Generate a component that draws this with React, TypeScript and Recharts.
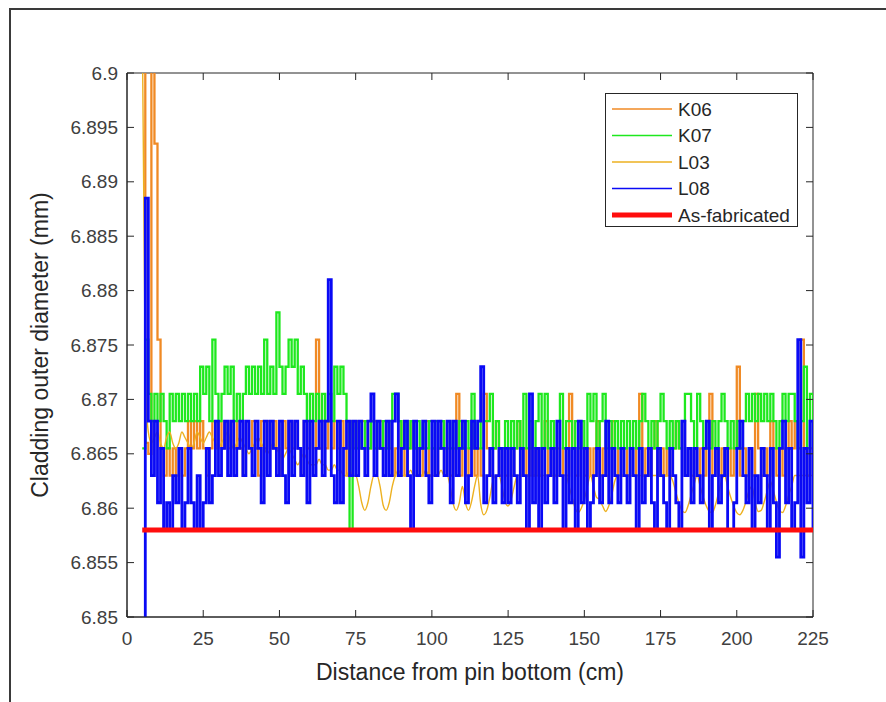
import { LineChart, Line, XAxis, YAxis, Legend, ReferenceArea } from 'recharts'

// sampling grid along the pin (cm)
const START_CM = 5
const STEP_CM = 1

// measured outer diameter (mm), one value per cm from 5 to 225
const K06 = [
  6.91, 6.866, 6.865, 6.91, 6.8935, 6.8755, 6.8655, 6.863, 6.8655, 6.863,
  6.8655, 6.863, 6.8655, 6.863, 6.8655, 6.868, 6.8655, 6.868, 6.8655, 6.868,
  6.8655, 6.863, 6.8655, 6.868, 6.8655, 6.868, 6.8655, 6.868, 6.8655, 6.868,
  6.8655, 6.868, 6.8655, 6.863, 6.868, 6.8655, 6.868, 6.8655, 6.863, 6.868,
  6.8655, 6.868, 6.8655, 6.868, 6.8655, 6.863, 6.868, 6.8655, 6.868, 6.8655,
  6.868, 6.8655, 6.863, 6.868, 6.8655, 6.868, 6.8655, 6.8755, 6.8655, 6.868,
  6.8655, 6.868, 6.8655, 6.868, 6.8655, 6.868, 6.8655, 6.863, 6.868, 6.8655,
  6.868, 6.8655, 6.868, 6.868, 6.8655, 6.868, 6.868, 6.8655, 6.868, 6.8655,
  6.868, 6.8655, 6.863, 6.8655, 6.868, 6.8655, 6.863, 6.8655, 6.868, 6.8655,
  6.8655, 6.863, 6.8655, 6.868, 6.863, 6.8655, 6.863, 6.8655, 6.868, 6.863,
  6.8655, 6.863, 6.8655, 6.8705, 6.863, 6.8655, 6.863, 6.8655, 6.868, 6.863,
  6.8655, 6.863, 6.8705, 6.8655, 6.863, 6.8655, 6.868, 6.863, 6.8655, 6.863,
  6.8655, 6.863, 6.8655, 6.868, 6.863, 6.8655, 6.863, 6.8655, 6.863, 6.8655,
  6.863, 6.8655, 6.868, 6.863, 6.8655, 6.863, 6.8655, 6.863, 6.8655, 6.863,
  6.8705, 6.8655, 6.863, 6.868, 6.8655, 6.863, 6.8655, 6.863, 6.8655, 6.868,
  6.863, 6.8655, 6.863, 6.8655, 6.868, 6.863, 6.8655, 6.863, 6.8655, 6.863,
  6.8655, 6.863, 6.8655, 6.8705, 6.863, 6.8655, 6.863, 6.8655, 6.868, 6.863,
  6.8655, 6.863, 6.8655, 6.863, 6.8655, 6.868, 6.8655, 6.868, 6.863, 6.8655,
  6.863, 6.8655, 6.863, 6.8655, 6.863, 6.8655, 6.8705, 6.863, 6.8655, 6.863,
  6.8655, 6.863, 6.8655, 6.863, 6.8655, 6.873, 6.863, 6.8655, 6.863, 6.8655,
  6.863, 6.8705, 6.8655, 6.863, 6.8655, 6.863, 6.868, 6.8655, 6.863, 6.8655,
  6.863, 6.8655, 6.868, 6.8655, 6.868, 6.8655, 6.8755, 6.8655, 6.863, 6.8655,
  6.863,
]

const K07 = [
  6.8655, 6.8755, 6.8705, 6.868, 6.8705, 6.868, 6.8705, 6.868, 6.8655, 6.8705,
  6.868, 6.8705, 6.868, 6.8705, 6.868, 6.8705, 6.868, 6.8705, 6.868, 6.873,
  6.8705, 6.873, 6.868, 6.8755, 6.8705, 6.868, 6.8705, 6.873, 6.8705, 6.873,
  6.868, 6.8705, 6.868, 6.8705, 6.873, 6.8705, 6.873, 6.8705, 6.873, 6.8705,
  6.8755, 6.8705, 6.873, 6.8705, 6.878, 6.873, 6.8705, 6.873, 6.8755, 6.873,
  6.8755, 6.8705, 6.873, 6.8705, 6.868, 6.8705, 6.868, 6.8705, 6.868, 6.8705,
  6.868, 6.8705, 6.868, 6.873, 6.8705, 6.873, 6.8705, 6.868, 6.858, 6.868,
  6.8655, 6.868, 6.8655, 6.868, 6.8655, 6.868, 6.8655, 6.868, 6.8655, 6.868,
  6.8655, 6.868, 6.8705, 6.8705, 6.868, 6.8655, 6.868, 6.8655, 6.868, 6.8655,
  6.868, 6.8655, 6.868, 6.8655, 6.868, 6.8655, 6.868, 6.8655, 6.868, 6.8655,
  6.868, 6.8655, 6.868, 6.8655, 6.868, 6.8655, 6.868, 6.8655, 6.8705, 6.8655,
  6.868, 6.8655, 6.868, 6.868, 6.8705, 6.8655, 6.868, 6.8655, 6.8655, 6.868,
  6.8655, 6.868, 6.8655, 6.868, 6.8655, 6.8705, 6.8655, 6.868, 6.8655, 6.868,
  6.8705, 6.8655, 6.8705, 6.8655, 6.868, 6.8655, 6.868, 6.8705, 6.8655, 6.868,
  6.868, 6.8655, 6.868, 6.8655, 6.868, 6.8655, 6.8705, 6.868, 6.8705, 6.8655,
  6.868, 6.8705, 6.8655, 6.868, 6.8655, 6.868, 6.8655, 6.868, 6.8655, 6.868,
  6.8655, 6.868, 6.8655, 6.868, 6.8705, 6.868, 6.8655, 6.868, 6.8655, 6.868,
  6.8705, 6.868, 6.8655, 6.868, 6.8655, 6.868, 6.8655, 6.868, 6.8705, 6.8705,
  6.868, 6.8655, 6.8705, 6.868, 6.8655, 6.868, 6.8655, 6.868, 6.8655, 6.868,
  6.8705, 6.868, 6.8655, 6.868, 6.8655, 6.868, 6.8655, 6.868, 6.8705, 6.868,
  6.8705, 6.868, 6.8705, 6.868, 6.8705, 6.868, 6.8705, 6.868, 6.8655, 6.868,
  6.8705, 6.868, 6.8705, 6.8705, 6.868, 6.8655, 6.868, 6.873, 6.8655, 6.8705,
  6.8655,
]

const L03 = [
  6.905, 6.872, 6.867, 6.866, 6.8665, 6.867, 6.866, 6.8655, 6.8665, 6.867,
  6.866, 6.8655, 6.866, 6.867, 6.8665, 6.866, 6.8655, 6.866, 6.867, 6.8665,
  6.866, 6.8665, 6.867, 6.8665, 6.866, 6.8655, 6.866, 6.8665, 6.867, 6.866,
  6.8655, 6.866, 6.8665, 6.866, 6.8655, 6.865, 6.8655, 6.866, 6.8665, 6.866,
  6.8655, 6.865, 6.8655, 6.866, 6.8655, 6.865, 6.8645, 6.865, 6.8655, 6.865,
  6.8645, 6.864, 6.8645, 6.865, 6.8645, 6.864, 6.864, 6.864, 6.8645, 6.864,
  6.864, 6.8635, 6.8635, 6.864, 6.8635, 6.8635, 6.863, 6.863, 6.8635, 6.863,
  6.863, 6.862, 6.8605, 6.8598, 6.8605, 6.862, 6.863, 6.863, 6.862, 6.8603,
  6.8598, 6.8605, 6.862, 6.863, 6.8635, 6.863, 6.863, 6.863, 6.8635, 6.863,
  6.863, 6.863, 6.863, 6.8635, 6.863, 6.863, 6.863, 6.863, 6.8635, 6.863,
  6.863, 6.862, 6.8604, 6.8598, 6.8605, 6.862, 6.8605, 6.8598, 6.8606, 6.862,
  6.863, 6.8604, 6.8594, 6.8598, 6.861, 6.8625, 6.863, 6.863, 6.862, 6.8606,
  6.8602, 6.8608, 6.862, 6.863, 6.863, 6.863, 6.863, 6.863, 6.863, 6.863,
  6.863, 6.863, 6.863, 6.863, 6.863, 6.863, 6.863, 6.863, 6.863, 6.863,
  6.862, 6.861, 6.86, 6.8596, 6.86, 6.8608, 6.862, 6.863, 6.862, 6.861,
  6.8608, 6.8602, 6.8597, 6.8602, 6.8612, 6.8625, 6.863, 6.863, 6.863, 6.863,
  6.863, 6.863, 6.863, 6.863, 6.863, 6.863, 6.863, 6.863, 6.863, 6.863,
  6.863, 6.863, 6.863, 6.863, 6.8625, 6.8615, 6.8605, 6.8598, 6.8596, 6.8602,
  6.8612, 6.8622, 6.863, 6.862, 6.861, 6.8602, 6.8597, 6.8596, 6.8603, 6.8614,
  6.8625, 6.863, 6.862, 6.861, 6.8602, 6.8596, 6.8594, 6.8598, 6.8606, 6.8616,
  6.862, 6.8606, 6.8597, 6.8598, 6.8606, 6.8616, 6.8625, 6.8616, 6.8606, 6.8598,
  6.8596, 6.8602, 6.8612, 6.862, 6.863, 6.863, 6.863, 6.863, 6.863, 6.863,
  6.863,
]

const L08 = [
  6.849, 6.8885, 6.868, 6.863, 6.868, 6.8605, 6.8655, 6.858, 6.8605, 6.858,
  6.863, 6.8605, 6.8655, 6.858, 6.8605, 6.8655, 6.8605, 6.858, 6.863, 6.858,
  6.8605, 6.8655, 6.8605, 6.863, 6.868, 6.863, 6.8655, 6.868, 6.863, 6.868,
  6.863, 6.8655, 6.868, 6.863, 6.868, 6.8655, 6.863, 6.868, 6.8655, 6.8605,
  6.868, 6.863, 6.868, 6.8655, 6.863, 6.868, 6.863, 6.8605, 6.868, 6.863,
  6.868, 6.8655, 6.863, 6.868, 6.8605, 6.868, 6.863, 6.8655, 6.868, 6.863,
  6.868, 6.881, 6.863, 6.8605, 6.868, 6.8605, 6.8655, 6.868, 6.863, 6.868,
  6.863, 6.868, 6.8655, 6.863, 6.868, 6.8705, 6.863, 6.868, 6.8655, 6.863,
  6.868, 6.863, 6.868, 6.8705, 6.863, 6.8655, 6.868, 6.863, 6.858, 6.868,
  6.863, 6.8655, 6.868, 6.863, 6.8605, 6.868, 6.863, 6.868, 6.8655, 6.863,
  6.868, 6.8605, 6.868, 6.863, 6.8655, 6.868, 6.8605, 6.863, 6.868, 6.8655,
  6.868, 6.873, 6.8605, 6.863, 6.8655, 6.8605, 6.863, 6.8655, 6.8605, 6.8655,
  6.8605, 6.8655, 6.863, 6.8605, 6.8655, 6.863, 6.858, 6.8705, 6.8605, 6.8655,
  6.858, 6.8655, 6.8605, 6.863, 6.8655, 6.8605, 6.868, 6.863, 6.858, 6.8655,
  6.8605, 6.8655, 6.858, 6.868, 6.8605, 6.8655, 6.858, 6.8605, 6.863, 6.8655,
  6.8605, 6.863, 6.868, 6.8605, 6.8655, 6.863, 6.8605, 6.8655, 6.863, 6.8605,
  6.8655, 6.863, 6.858, 6.8655, 6.8605, 6.863, 6.8655, 6.8605, 6.858, 6.8655,
  6.863, 6.8605, 6.858, 6.8655, 6.863, 6.8605, 6.858, 6.868, 6.863, 6.8655,
  6.8605, 6.8655, 6.863, 6.8605, 6.8655, 6.868, 6.858, 6.863, 6.8655, 6.8605,
  6.863, 6.8655, 6.858, 6.858, 6.8605, 6.8655, 6.868, 6.863, 6.8605, 6.8655,
  6.858, 6.863, 6.8605, 6.8655, 6.863, 6.858, 6.8655, 6.8605, 6.8555, 6.8655,
  6.868, 6.8605, 6.8655, 6.858, 6.8605, 6.8755, 6.8555, 6.8655, 6.8605, 6.868,
  6.858,
]

const AS_FABRICATED = 6.858

const X_TICKS = [0, 25, 50, 75, 100, 125, 150, 175, 200, 225]
const Y_TICKS = [6.85, 6.855, 6.86, 6.865, 6.87, 6.875, 6.88, 6.885, 6.89, 6.895, 6.9]

const rows = L08.map((_, i) => ({
  x: START_CM + i * STEP_CM,
  K06: K06[i],
  K07: K07[i],
  L03: L03[i],
  L08: L08[i],
  asFab: AS_FABRICATED,
}))

const W = 886
const H = 702
const PLOT_LEFT = 127
const PLOT_RIGHT = 813
const PLOT_TOP = 73
const PLOT_BOTTOM = 617
const TICK_LEN = 7
const AXIS_COLOR = '#262626'
const TEXT_COLOR = '#404040'
const FONT = '"Liberation Sans", Arial, Helvetica, sans-serif'
const TICK_FONT = 19
const LABEL_FONT = 23

const SERIES = [
  { key: 'K06', name: 'K06', color: '#F08A24', width: 2.3, legendWidth: 1.6, type: 'stepAfter' },
  { key: 'K07', name: 'K07', color: '#1EE81E', width: 2.3, legendWidth: 1.6, type: 'stepAfter' },
  { key: 'L03', name: 'L03', color: '#EDB120', width: 1.4, legendWidth: 1.6, type: 'monotone' },
  { key: 'L08', name: 'L08', color: '#0A0AF5', width: 2.8, legendWidth: 1.6, type: 'stepAfter' },
  { key: 'asFab', name: 'As-fabricated', color: '#FF0D0D', width: 5, legendWidth: 5, type: 'linear' },
] as const

function XTick(props: any) {
  const { x, payload } = props
  return (
    <g>
      <line x1={x} x2={x} y1={PLOT_BOTTOM} y2={PLOT_BOTTOM - TICK_LEN} stroke={AXIS_COLOR} />
      <line x1={x} x2={x} y1={PLOT_TOP} y2={PLOT_TOP + TICK_LEN} stroke={AXIS_COLOR} />
      <text
        x={x}
        y={PLOT_BOTTOM + 21}
        textAnchor="middle"
        dominantBaseline="central"
        fontSize={TICK_FONT}
        fontFamily={FONT}
        fill={TEXT_COLOR}
      >
        {payload.value}
      </text>
    </g>
  )
}

function YTick(props: any) {
  const { y, payload } = props
  return (
    <g>
      <line x1={PLOT_LEFT} x2={PLOT_LEFT + TICK_LEN} y1={y} y2={y} stroke={AXIS_COLOR} />
      <line x1={PLOT_RIGHT} x2={PLOT_RIGHT - TICK_LEN} y1={y} y2={y} stroke={AXIS_COLOR} />
      <text
        x={PLOT_LEFT - 9}
        y={y}
        textAnchor="end"
        dominantBaseline="central"
        fontSize={TICK_FONT}
        fontFamily={FONT}
        fill={TEXT_COLOR}
      >
        {String(payload.value)}
      </text>
    </g>
  )
}

function XTitle() {
  return (
    <text
      x={(PLOT_LEFT + PLOT_RIGHT) / 2}
      y={672}
      textAnchor="middle"
      dominantBaseline="central"
      fontSize={LABEL_FONT}
      fontFamily={FONT}
      fill={AXIS_COLOR}
    >
      Distance from pin bottom (cm)
    </text>
  )
}

function YTitle() {
  const cx = 40
  const cy = (PLOT_TOP + PLOT_BOTTOM) / 2
  return (
    <text
      x={cx}
      y={cy}
      transform={`rotate(-90 ${cx} ${cy})`}
      textAnchor="middle"
      dominantBaseline="central"
      fontSize={LABEL_FONT}
      fontFamily={FONT}
      fill={AXIS_COLOR}
    >
      Cladding outer diameter (mm)
    </text>
  )
}

function LegendBox() {
  const rowH = 26.5
  return (
    <div
      style={{
        width: 193,
        height: 134,
        border: `1px solid ${AXIS_COLOR}`,
        background: '#fff',
        boxSizing: 'border-box',
      }}
    >
      <svg width={191} height={132}>
        {SERIES.map((s, i) => {
          const cy = 15 + i * rowH
          return (
            <g key={s.key}>
              <line x1={6} x2={66} y1={cy} y2={cy} stroke={s.color} strokeWidth={s.legendWidth} />
              <text
                x={72}
                y={cy}
                dominantBaseline="central"
                fontSize={TICK_FONT}
                fontFamily={FONT}
                fill={AXIS_COLOR}
              >
                {s.name}
              </text>
            </g>
          )
        })}
      </svg>
    </div>
  )
}

export default function App() {
  return (
    <div style={{ position: 'absolute', left: 0, top: 0, width: W, height: H, background: '#fff' }}>
      <div
        style={{
          position: 'absolute',
          left: 9,
          top: 8,
          width: W - 9,
          height: H - 8,
          borderTop: '2px solid #3a3a3a',
          borderLeft: '2px solid #3a3a3a',
          boxSizing: 'border-box',
        }}
      />
      <div style={{ position: 'absolute', left: 0, top: 0 }}>
        <LineChart
          width={W}
          height={H}
          data={rows}
          margin={{ top: PLOT_TOP, right: W - PLOT_RIGHT, bottom: 0, left: 0 }}
        >
          <ReferenceArea
            x1={0}
            x2={225}
            y1={6.85}
            y2={6.9}
            fill="none"
            stroke={AXIS_COLOR}
            strokeWidth={1}
            ifOverflow="visible"
          />
          <XAxis
            dataKey="x"
            type="number"
            domain={[0, 225]}
            ticks={X_TICKS}
            interval={0}
            allowDataOverflow
            height={H - PLOT_BOTTOM}
            axisLine={{ stroke: AXIS_COLOR }}
            tickLine={false}
            tick={<XTick />}
            label={() => <XTitle />}
          />
          <YAxis
            type="number"
            domain={[6.85, 6.9]}
            ticks={Y_TICKS}
            interval={0}
            allowDataOverflow
            width={PLOT_LEFT}
            axisLine={{ stroke: AXIS_COLOR }}
            tickLine={false}
            tick={<YTick />}
            label={() => <YTitle />}
          />
          {SERIES.map((s) => (
            <Line
              key={s.key}
              dataKey={s.key}
              name={s.name}
              type={s.type}
              stroke={s.color}
              strokeWidth={s.width}
              dot={false}
              activeDot={false}
              isAnimationActive={false}
            />
          ))}
          <Legend
            layout="vertical"
            align="center"
            verticalAlign="middle"
            content={() => <LegendBox />}
            wrapperStyle={{ position: 'absolute', left: 605, top: 93, width: 193, height: 134 }}
          />
        </LineChart>
      </div>
    </div>
  )
}
